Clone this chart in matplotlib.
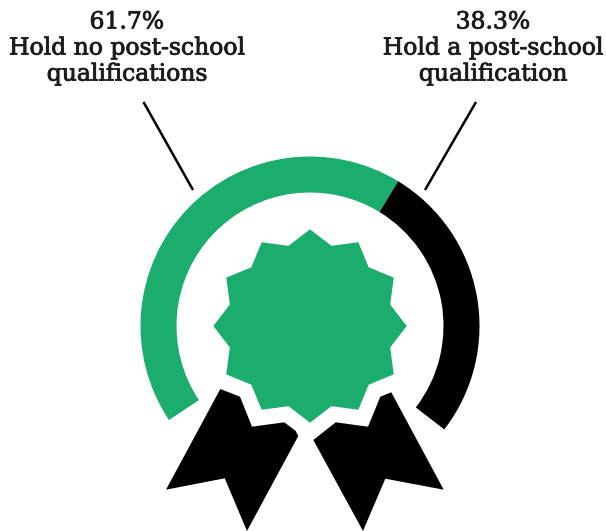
import numpy as np
import matplotlib
matplotlib.use("Agg")
import matplotlib.pyplot as plt
from matplotlib.patches import Wedge, Polygon
import matplotlib.patheffects as pe

categories = ["Hold no post-school\nqualifications", "Hold a post-school\nqualification"]
shares = [61.7, 38.3]
share_labels = ["61.7%", "38.3%"]
colors = ["#1BAD6E", "#000000"]

W, H = 606, 531
GREEN = colors[0]
INK = "#1c1c1c"

fig = plt.figure(figsize=(W / 100, H / 100), dpi=100, facecolor="white")
ax = fig.add_axes([0, 0, 1, 1])
ax.set_xlim(0, W)
ax.set_ylim(H, 0)
ax.set_aspect("equal")
ax.axis("off")

cx, cy = 310, 326

# Gauge ring: an open arc whose segments are proportional to the shares.
# The y axis is inverted, so angles are measured clockwise from +x.
ring_outer, ring_inner = 169.5, 133.5
arc_span = 251.3
theta = 146.3
for share, color in zip(shares, colors):
    sweep = arc_span * share / sum(shares)
    ax.add_patch(Wedge((cx, cy), ring_outer, theta, theta + sweep,
                       width=ring_outer - ring_inner, facecolor=color,
                       edgecolor="none", zorder=2))
    theta += sweep

# Twelve-pointed rosette at the centre of the ring.
n_points = 12
angles = np.deg2rad(np.arange(2 * n_points) * 180 / n_points)
radii = np.where(np.arange(2 * n_points) % 2 == 0, 96.7, 83.0)
ax.add_patch(Polygon(np.column_stack([cx + radii * np.cos(angles),
                                      cy + radii * np.sin(angles)]),
                     closed=True, facecolor=GREEN, edgecolor="none", zorder=2))

# Ribbon tails below the rosette.
tail_left = [(220.3, 389), (240, 396.7), (252, 426.7), (284.3, 422.3),
             (295.7, 431), (298.3, 436), (247, 531), (224.7, 478.3), (166, 489.7)]
tail_right = [(391.3, 392.3), (380.3, 396.7), (368, 426.7), (335.7, 422.3),
              (313.3, 440), (363, 531), (385.3, 478.7), (443.7, 489.7)]
for tail in (tail_left, tail_right):
    ax.add_patch(Polygon(tail, closed=True, facecolor="black", edgecolor="none", zorder=2))

# Leader lines from the labels to the ring.
ax.plot([143.5, 193], [102, 190], color="black", lw=1.8, solid_capstyle="butt", zorder=1)
ax.plot([476, 425], [102, 190], color="black", lw=1.8, solid_capstyle="butt", zorder=1)

# Labels.
label_x = [127, 493]
for x, pct, cat in zip(label_x, share_labels, categories):
    ax.text(x, 48.5, pct + "\n" + cat, ha="center", va="center", ma="center",
            fontsize=16.9, family="DejaVu Serif", color=INK, linespacing=1.24,
            path_effects=[pe.withStroke(linewidth=0.6, foreground=INK)])

fig.savefig("out.png", dpi=100, facecolor="white")
